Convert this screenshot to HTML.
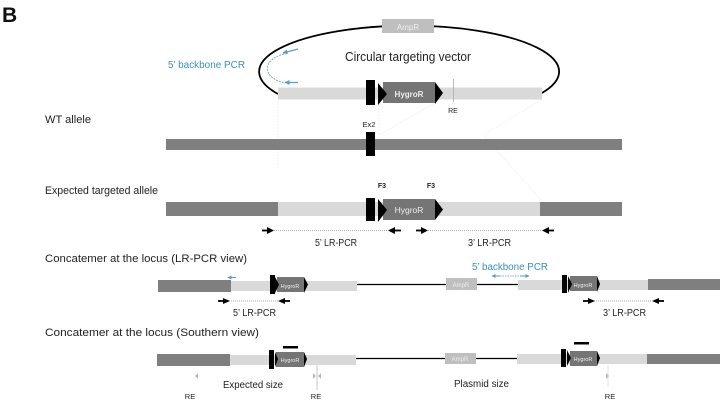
<!DOCTYPE html>
<html>
<head>
<meta charset="utf-8">
<style>
html,body{margin:0;padding:0;background:#fff;width:724px;height:405px;overflow:hidden}
svg{display:block;filter:blur(.35px)}
text{font-family:"Liberation Sans",sans-serif;fill:#222}
</style>
</head>
<body>
<svg width="724" height="405" viewBox="0 0 724 405" xmlns="http://www.w3.org/2000/svg">
<defs>
<marker id="b" markerUnits="userSpaceOnUse" markerWidth="5" markerHeight="5" refX="4.500" refY="2.500" orient="auto"><path d="M0,0L5,2.500L0,5z" fill="#5b9bc8"/></marker>
<marker id="bs" markerUnits="userSpaceOnUse" markerWidth="4" markerHeight="4" refX="3.500" refY="2" orient="auto"><path d="M0,0L4,2L0,4z" fill="#5b9bc8"/></marker>
</defs>
<text x="2" y="22" font-size="21" font-weight="bold" style="fill:#111">B</text>

<!-- guide lines -->
<g stroke="#eeeeee" stroke-width=".7" stroke-dasharray="2 1" fill="none">
<path d="M278,100V170"/><path d="M379,105V135L435,103"/><path d="M541,100L483,135L541,200"/>
</g>

<!-- circular vector -->
<path d="M278,94 A150,46 0 1 1 542,93" fill="none" stroke="#000" stroke-width="1.800"/>
<rect x="382" y="19" width="52" height="14" fill="#bfbfbf"/>
<text x="408" y="30" font-size="8" text-anchor="middle" style="fill:#eee">AmpR</text>
<text x="345" y="61" font-size="12.500" textLength="126" lengthAdjust="spacingAndGlyphs">Circular targeting vector</text>
<text x="168" y="68" font-size="10" textLength="77" lengthAdjust="spacingAndGlyphs" style="fill:#3f8fb5">5’ backbone PCR</text>
<path d="M284,54 C261,60 262,78 285,83" fill="none" stroke="#5b9bc8" stroke-width=".8" stroke-dasharray="2 1"/>
<path d="M298,49L283,53" stroke="#5b9bc8" stroke-width="1.300" marker-end="url(#b)"/>
<path d="M298,82.500L285,82.500" stroke="#5b9bc8" stroke-width="1.300" marker-end="url(#b)"/>

<rect x="278" y="87.500" width="264" height="12" fill="#d9d9d9"/>
<rect x="366" y="80" width="9" height="25" fill="#000"/>
<rect x="383" y="82" width="52" height="21" fill="#757575"/>
<path d="M378,83L387,94L378,105z" fill="#000"/>
<path d="M435,82L443,93L435,104z" fill="#000"/>
<text x="409" y="97" font-size="8" font-weight="bold" text-anchor="middle" style="fill:#eee">HygroR</text>
<line x1="453.500" y1="79" x2="453.500" y2="102" stroke="#aaa" stroke-width=".8"/>
<text x="453" y="113" font-size="7" text-anchor="middle">RE</text>

<!-- WT allele -->
<text x="45" y="123" font-size="11" textLength="46" lengthAdjust="spacingAndGlyphs">WT allele</text>
<text x="369" y="127" font-size="7.500" text-anchor="middle">Ex2</text>
<rect x="166" y="139" width="456" height="11" fill="#7f7f7f"/>
<rect x="366" y="132" width="9" height="24" fill="#000"/>

<!-- Expected targeted allele -->
<text x="45" y="194" font-size="11" textLength="113" lengthAdjust="spacingAndGlyphs">Expected targeted allele</text>
<text x="382" y="188" font-size="7" font-weight="bold" text-anchor="middle">F3</text>
<text x="431" y="188" font-size="7" font-weight="bold" text-anchor="middle">F3</text>
<rect x="166" y="202" width="456" height="14" fill="#7f7f7f"/>
<rect x="278" y="202" width="262" height="14" fill="#d9d9d9"/>
<rect x="366" y="198" width="9" height="23" fill="#000"/>
<rect x="383" y="199" width="52" height="21" fill="#757575"/>
<path d="M378,199L387,210L378,222z" fill="#000"/>
<path d="M435,199L443,209.500L435,220z" fill="#000"/>
<text x="409" y="213" font-size="8.500" text-anchor="middle" style="fill:#eee">HygroR</text>

<!-- LR-PCR arrows -->
<g stroke="#999" stroke-width=".7" stroke-dasharray="1 1"><path d="M272,230.500H388"/><path d="M426,230.500H543"/></g>
<g fill="#000" stroke="#000" stroke-width="1.800">
<path d="M262,230.500H268"/><path d="M401,230.500H395"/><path d="M416,230.500H422"/><path d="M554,230.500H548"/>
</g>
<g fill="#000">
<path d="M267,227L274,230.500L267,234z"/><path d="M395,227L388,230.500L395,234z"/>
<path d="M421,227L428,230.500L421,234z"/><path d="M549,227L542,230.500L549,234z"/>
</g>
<text x="315" y="246" font-size="10" textLength="42" lengthAdjust="spacingAndGlyphs">5’ LR-PCR</text>
<text x="468" y="246" font-size="10" textLength="43" lengthAdjust="spacingAndGlyphs">3’ LR-PCR</text>

<!-- Concatemer LR-PCR -->
<text x="45" y="262" font-size="11" textLength="202" lengthAdjust="spacingAndGlyphs">Concatemer at the locus (LR-PCR view)</text>
<rect x="158" y="280" width="73" height="12" fill="#7f7f7f"/>
<rect x="231" y="281" width="126" height="10" fill="#d9d9d9"/>
<line x1="357" y1="284.500" x2="446" y2="284.500" stroke="#000" stroke-width="1.300"/>
<rect x="270" y="275" width="5" height="19" fill="#000"/>
<rect x="277" y="277" width="27" height="15" fill="#757575"/>
<path d="M275,277L279,284.500L275,293z" fill="#000"/><path d="M304,277L308,284.500L304,293z" fill="#000"/>
<text x="290" y="288" font-size="5.500" text-anchor="middle" style="fill:#eee">HygroR</text>
<path d="M236,277.500H228" stroke="#5b9bc8" stroke-width="1" marker-end="url(#bs)"/>
<g stroke="#999" stroke-width=".7" stroke-dasharray="1 1"><path d="M227,301H280"/><path d="M594,301H652"/></g>
<g stroke="#000" stroke-width="1.800">
<path d="M218,301H224"/><path d="M290,301H284"/><path d="M583,301H589"/><path d="M664,301H658"/>
</g>
<g fill="#000">
<path d="M223,298L230,301L223,304z"/><path d="M285,298L278,301L285,304z"/>
<path d="M588,298L595,301L588,304z"/><path d="M659,298L652,301L659,304z"/>
</g>
<text x="233" y="316" font-size="10" textLength="43" lengthAdjust="spacingAndGlyphs">5’ LR-PCR</text>
<text x="603" y="316" font-size="10" textLength="43" lengthAdjust="spacingAndGlyphs">3’ LR-PCR</text>

<rect x="446" y="278" width="31" height="12" fill="#bfbfbf"/>
<text x="461" y="287" font-size="6" text-anchor="middle" style="fill:#eee">AmpR</text>
<line x1="477" y1="284.500" x2="518" y2="284.500" stroke="#000" stroke-width="1.300"/>
<text x="472" y="270" font-size="10" textLength="76" lengthAdjust="spacingAndGlyphs" style="fill:#3f8fb5">5’ backbone PCR</text>
<path d="M495,276H525" stroke="#5b9bc8" stroke-width=".7" stroke-dasharray="1.500 1"/>
<path d="M500,276H492" stroke="#5b9bc8" stroke-width="1" marker-end="url(#bs)"/>
<path d="M520,276H529" stroke="#5b9bc8" stroke-width="1" marker-end="url(#bs)"/>
<rect x="518" y="280" width="130" height="10" fill="#d9d9d9"/>
<rect x="648" y="279" width="72" height="11" fill="#7f7f7f"/>
<rect x="562" y="275" width="5" height="18" fill="#000"/>
<rect x="570" y="276" width="27" height="15" fill="#757575"/>
<path d="M568,276L572,284L568,293z" fill="#000"/><path d="M597,276L600,284L597,292z" fill="#000"/>
<text x="583" y="287" font-size="5.500" text-anchor="middle" style="fill:#eee">HygroR</text>

<!-- Concatemer Southern -->
<text x="45" y="336" font-size="11" textLength="214" lengthAdjust="spacingAndGlyphs">Concatemer at the locus (Southern view)</text>
<rect x="157" y="354" width="73" height="12" fill="#7f7f7f"/>
<rect x="230" y="355" width="126" height="10" fill="#d9d9d9"/>
<line x1="356" y1="358.500" x2="445" y2="358.500" stroke="#000" stroke-width="1.300"/>
<rect x="269" y="350" width="5" height="19" fill="#000"/>
<rect x="276" y="352" width="28" height="15" fill="#757575"/>
<path d="M275,352L278,359L275,367z" fill="#000"/><path d="M304,352L307,359L304,367z" fill="#000"/>
<text x="290" y="362" font-size="5.500" text-anchor="middle" style="fill:#eee">HygroR</text>
<rect x="283" y="346" width="15" height="2.500" fill="#000"/>
<rect x="445" y="353" width="31" height="11" fill="#bfbfbf"/>
<text x="460" y="361" font-size="6" text-anchor="middle" style="fill:#eee">AmpR</text>
<line x1="476" y1="358.500" x2="517" y2="358.500" stroke="#000" stroke-width="1.300"/>
<rect x="517" y="354" width="130" height="10" fill="#d9d9d9"/>
<rect x="647" y="354" width="73" height="10" fill="#7f7f7f"/>
<rect x="561" y="349" width="5" height="18" fill="#000"/>
<rect x="570" y="351" width="27" height="15" fill="#757575"/>
<path d="M567,350L571,358L567,366z" fill="#000"/><path d="M597,351L600,358L597,366z" fill="#000"/>
<text x="583" y="361" font-size="5.500" text-anchor="middle" style="fill:#eee">HygroR</text>
<rect x="574" y="342" width="15" height="2.500" fill="#000"/>

<line x1="317" y1="365" x2="317" y2="390" stroke="#bbb" stroke-width=".8"/>
<line x1="608" y1="365" x2="608" y2="387" stroke="#ddd" stroke-width=".8"/>
<g fill="#bbb">
<path d="M198,373L195,376L198,379z"/>
<path d="M313,373L316,376L313,379z"/>
<path d="M321,373L318,376L321,379z"/>
<path d="M606,373L609,376L606,379z"/>
</g>
<text x="223" y="388" font-size="10" textLength="60" lengthAdjust="spacingAndGlyphs">Expected size</text>
<text x="454" y="387" font-size="10" textLength="55" lengthAdjust="spacingAndGlyphs">Plasmid size</text>
<text x="190" y="399" font-size="7.500" text-anchor="middle">RE</text>
<text x="316" y="399" font-size="7.500" text-anchor="middle">RE</text>
<text x="610" y="399" font-size="7.500" text-anchor="middle">RE</text>
</svg>
</body>
</html>
